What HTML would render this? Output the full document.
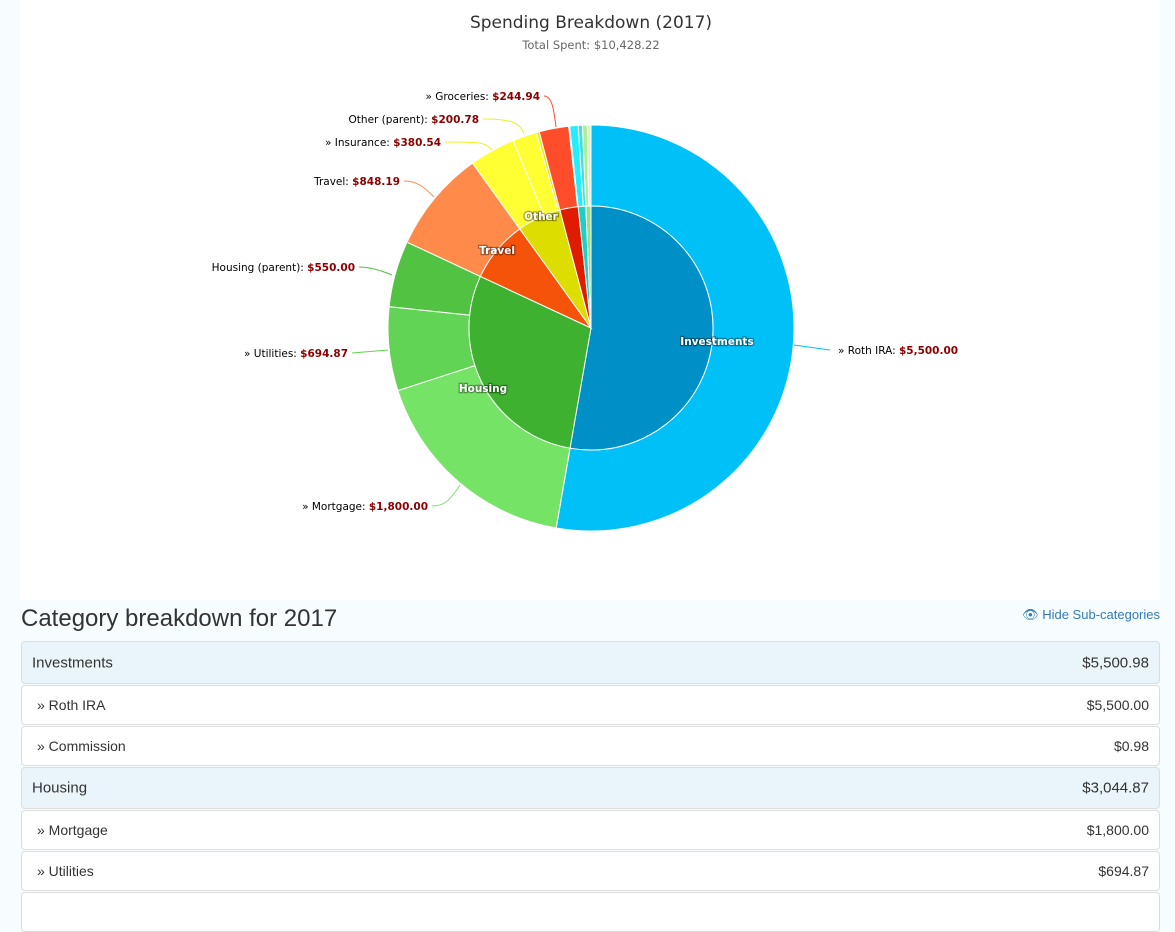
<!DOCTYPE html>
<html><head><meta charset="utf-8"><style>
body{margin:0;width:1175px;height:897px;background:#f7fcff;font-family:"Liberation Sans",sans-serif;overflow:hidden;position:relative}
#chart{position:absolute;left:20px;top:0;width:1140px;height:600px;background:#fff}
svg{position:absolute;left:0;top:0}
h2{position:absolute;left:21px;top:605px;margin:0;font-weight:normal;font-size:24px;color:#333}
.hide{position:absolute;right:15px;top:607px;font-size:13px;color:#337ab7}
.row{position:absolute;left:21px;width:1139px;border:1px solid #ddd;border-radius:4px;background:#fff;font-size:14px;color:#333;box-sizing:border-box}
.row span{position:absolute;top:50%;transform:translateY(-50%)}
.row .l{left:15px}.row .r{right:10px}
.row.h{background:#eaf4fb;font-size:15px}
.row.h .l{left:10px}
</style></head><body>
<div id="chart"></div>
<svg width="1175" height="600" id="s" font-family="DejaVu Sans, sans-serif">
<text x="591" y="28" text-anchor="middle" font-size="17" fill="#333">Spending Breakdown (2017)</text>
<text x="591" y="49" text-anchor="middle" font-size="11.5" fill="#666">Total Spent: $10,428.22</text>
<g id="pies"></g>
<g font-size="10.5" fill="#000">
<path d="M794 345 L830 350" stroke="#00c0f8" fill="none"/>
<text x="838" y="354">» Roth IRA: <tspan fill="#8b0000" font-weight="bold">$5,500.00</tspan></text>
<path d="M460 485 C450 500,445 506,432 506" stroke="#74e366" fill="none"/>
<text x="428" y="510" text-anchor="end">» Mortgage: <tspan fill="#8b0000" font-weight="bold">$1,800.00</tspan></text>
<path d="M388 350 L352 353" stroke="#62d455" fill="none"/>
<text x="348" y="357" text-anchor="end">» Utilities: <tspan fill="#8b0000" font-weight="bold">$694.87</tspan></text>
<path d="M392 275 C380 270,370 267,359 267" stroke="#52c242" fill="none"/>
<text x="355" y="271" text-anchor="end">Housing (parent): <tspan fill="#8b0000" font-weight="bold">$550.00</tspan></text>
<path d="M434 197 C425 188,418 181,404 181" stroke="#ff8a4a" fill="none"/>
<text x="400" y="185" text-anchor="end">Travel: <tspan fill="#8b0000" font-weight="bold">$848.19</tspan></text>
<path d="M492 150 C485 142,480 142,445 142" stroke="#f0f020" fill="none"/>
<text x="441" y="146" text-anchor="end">» Insurance: <tspan fill="#8b0000" font-weight="bold">$380.54</tspan></text>
<path d="M524 134 C520 124,515 119,483 119" stroke="#f0f020" fill="none"/>
<text x="479" y="123" text-anchor="end">Other (parent): <tspan fill="#8b0000" font-weight="bold">$200.78</tspan></text>
<path d="M556 127 C554 110,552 96,544 96" stroke="#ff4c2a" fill="none"/>
<text x="540" y="100" text-anchor="end">» Groceries: <tspan fill="#8b0000" font-weight="bold">$244.94</tspan></text>
</g>
<g font-size="10.5" font-weight="bold" fill="#fff" stroke="#000" stroke-width="2.5" stroke-opacity=".35" paint-order="stroke" text-anchor="middle">
<text x="717" y="345">Investments</text>
<text x="483" y="392">Housing</text>
<text x="497" y="254">Travel</text>
<text x="541" y="220">Other</text>
</g>
</svg>
<h2>Category breakdown for 2017</h2>
<div class="hide">👁 Hide Sub-categories</div>
<div class="row h" style="top:641px;height:43px"><span class="l">Investments</span><span class="r">$5,500.98</span></div>
<div class="row" style="top:685px;height:40px"><span class="l">» Roth IRA</span><span class="r">$5,500.00</span></div>
<div class="row" style="top:726px;height:40px"><span class="l">» Commission</span><span class="r">$0.98</span></div>
<div class="row h" style="top:767px;height:42px"><span class="l">Housing</span><span class="r">$3,044.87</span></div>
<div class="row" style="top:810px;height:40px"><span class="l">» Mortgage</span><span class="r">$1,800.00</span></div>
<div class="row" style="top:851px;height:40px"><span class="l">» Utilities</span><span class="r">$694.87</span></div>
<div class="row" style="top:892px;height:40px"></div>
<script>
var cx=591,cy=328,T=10428.22;
function pt(r,a){a=(a-90)*Math.PI/180;return [cx+r*Math.cos(a),cy+r*Math.sin(a)];}
function ring(data,r0,r1){var a=0,s='';data.forEach(function(d){var b=a+d[0]/T*360;var l=(b-a)>180?1:0;
var p1=pt(r1,a),p2=pt(r1,b),p3=pt(r0,b),p4=pt(r0,a);
var path='M'+p1+' A'+r1+' '+r1+' 0 '+l+' 1 '+p2+' L'+p3+(r0>0?' A'+r0+' '+r0+' 0 '+l+' 0 '+p4:'')+' Z';
s+='<path d="'+path+'" fill="'+d[1]+'" stroke="#fff" stroke-width="1"/>';a=b;});return s;}
var outer=[[5500,'#00c0f8'],[0.98,'#00c0f8'],[1800,'#74e366'],[694.87,'#62d455'],[550,'#52c242'],[848.19,'#ff8a4a'],[380.54,'#ffff33'],[200.78,'#ffff33'],[25,'#eaea20'],[244.94,'#ff4c2a'],[8,'#ff4c2a'],[70,'#22eeff'],[35,'#44dddd'],[40,'#aaee99'],[29.92,'#ddeecc']];
var inner=[[5500.98,'#0090c8'],[3044.87,'#3fb130'],[848.19,'#f5520a'],[606.32,'#dddd00'],[252.94,'#e01c00'],[105,'#1cd0c8'],[69.92,'#99dd88']];
document.getElementById('pies').innerHTML=ring(outer,122,203)+ring(inner,0,122);
</script>
</body></html>
